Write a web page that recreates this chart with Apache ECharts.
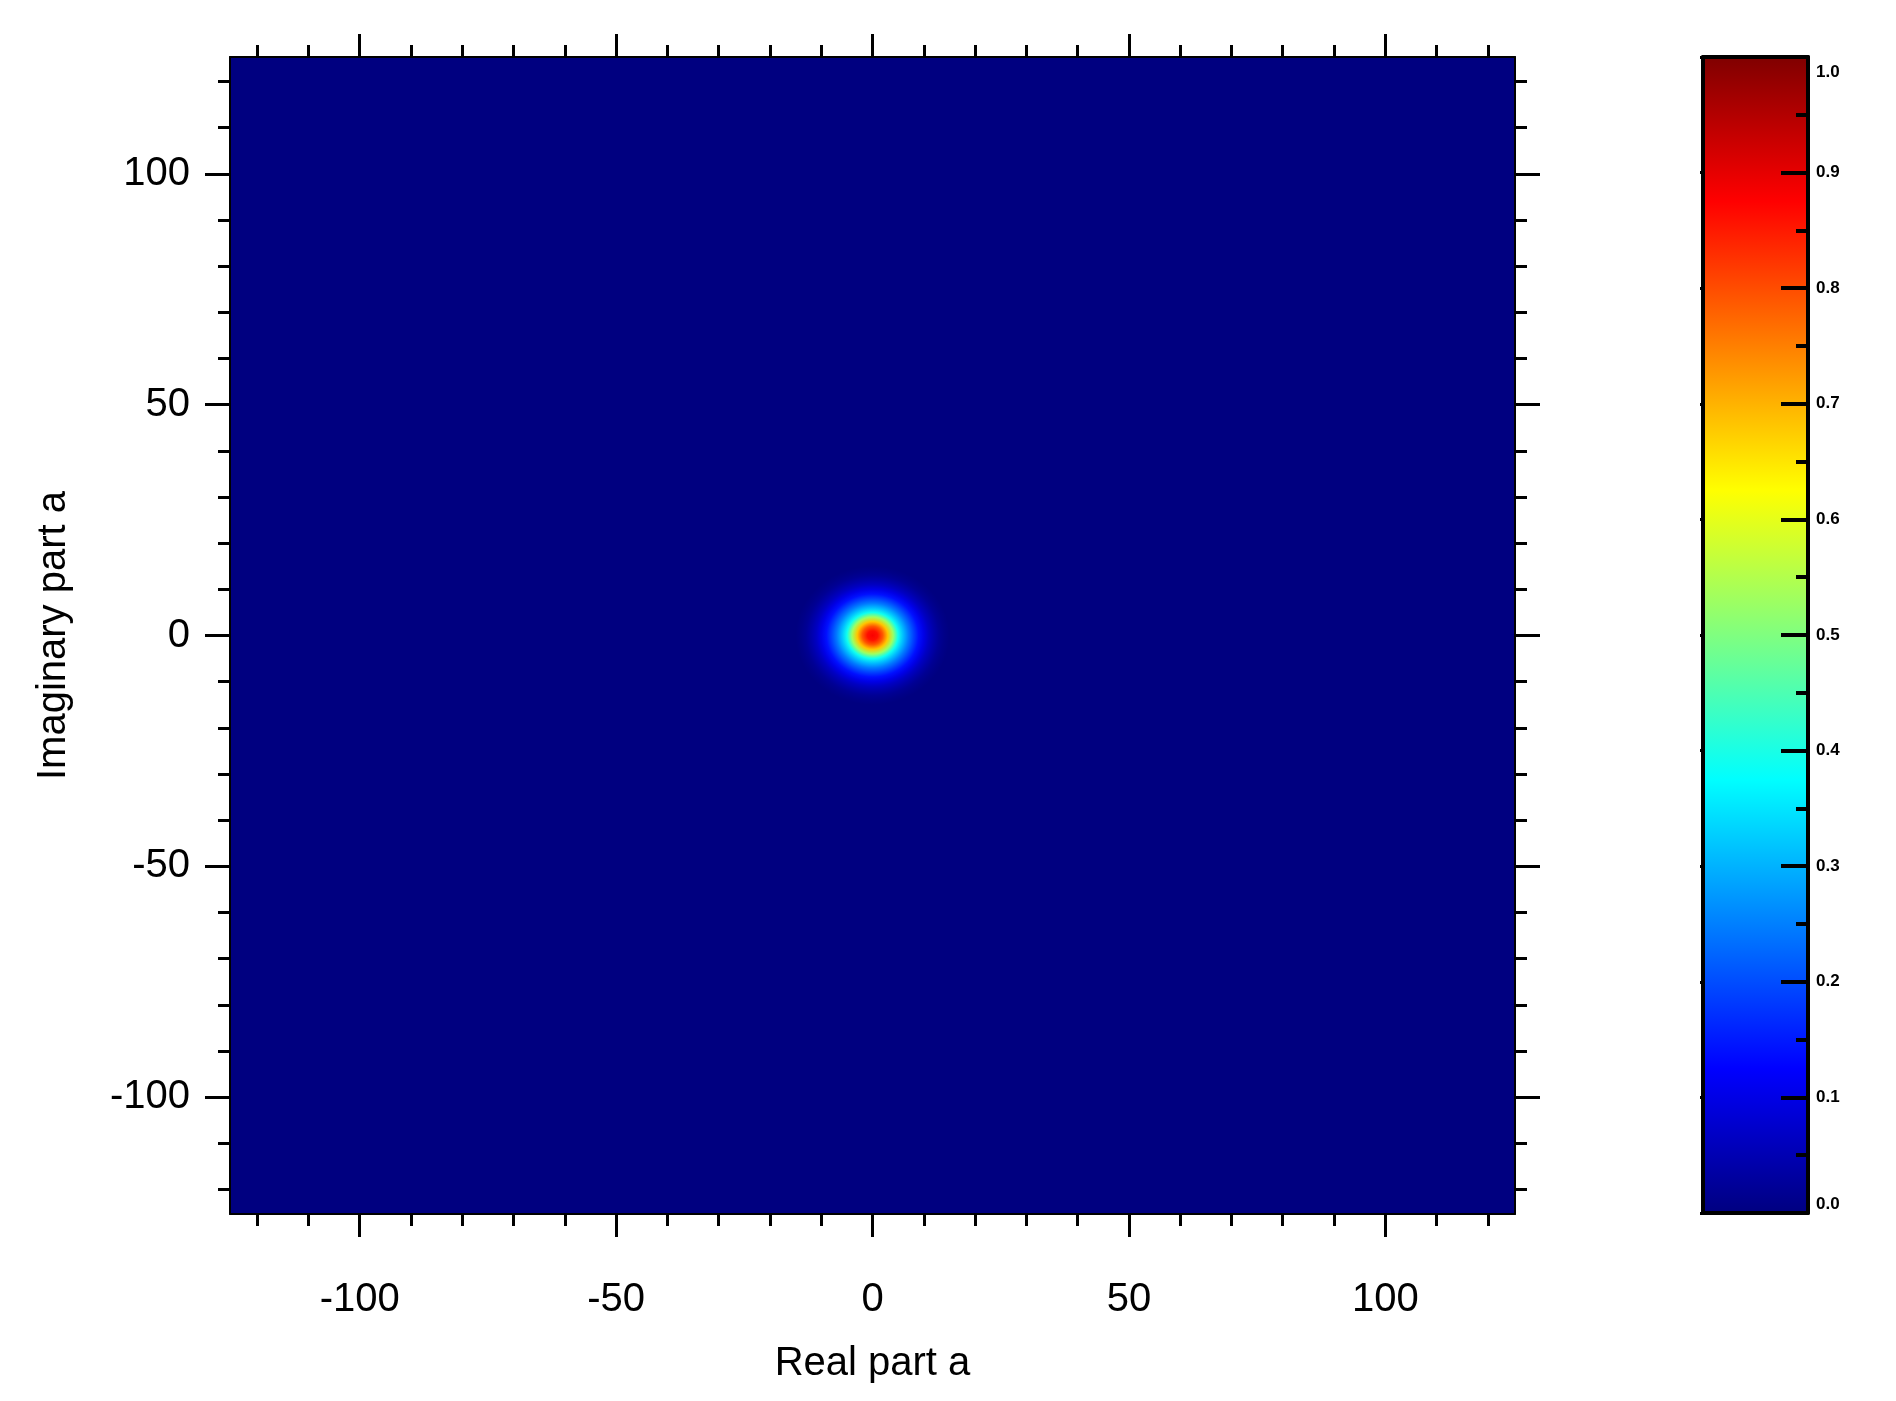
<!DOCTYPE html>
<html>
<head>
<meta charset="utf-8">
<script src="https://cdn.jsdelivr.net/npm/echarts@6/dist/echarts.min.js"></script>
<style>
html,body{margin:0;padding:0;background:#ffffff;}
#chart{width:1896px;height:1401px;}
</style>
</head>
<body>
<div id="chart"></div>
<script>
// ---------------- data ----------------
const xMajorTicks = [-100, -50, 0, 50, 100];
const xMinorTicks = [-120, -110, -90, -80, -70, -60, -40, -30, -20, -10, 10, 20, 30, 40, 60, 70, 80, 90, 110, 120];
const yMajorTicks = [-100, -50, 0, 50, 100];
const yMinorTicks = [-120, -110, -90, -80, -70, -60, -40, -30, -20, -10, 10, 20, 30, 40, 60, 70, 80, 90, 110, 120];
const axisRange = [-125.3, 125.3];

// centre of the distribution (Real part, Imaginary part)
const blobCentre = [0, 0];
// radial profile of the distribution: distance from centre -> level
const profileRadius = [0, 1, 2, 3, 4, 5, 6, 7, 8, 9, 10, 11, 12, 13, 14, 15];
const profileLevel  = [0.88, 0.86, 0.79, 0.68, 0.53, 0.39, 0.31, 0.245, 0.19, 0.14, 0.10, 0.065, 0.04, 0.02, 0.008, 0.0];

const colorbarRange = [0, 1];
const colorbarStep = 0.1;
// colour table (jet)
const jetStops = [[0, '#000080'], [0.125, '#0000ff'], [0.375, '#00ffff'], [0.625, '#ffff00'], [0.875, '#ff0000'], [1, '#800000']];

// ---------------- helpers ----------------
function hexRgb(h) { return [parseInt(h.slice(1, 3), 16), parseInt(h.slice(3, 5), 16), parseInt(h.slice(5, 7), 16)]; }
function jet(v) {
  v = Math.max(0, Math.min(1, v));
  for (let i = 0; i < jetStops.length - 1; i++) {
    const a = jetStops[i], b = jetStops[i + 1];
    if (v <= b[0]) {
      const t = (v - a[0]) / (b[0] - a[0]);
      const ca = hexRgb(a[1]), cb = hexRgb(b[1]);
      const c = ca.map((x, k) => Math.round(x + (cb[k] - x) * t));
      return 'rgb(' + c.join(',') + ')';
    }
  }
  return jetStops[jetStops.length - 1][1];
}

const FONT = "'Liberation Sans', Arial, Helvetica, sans-serif";
const chart = echarts.init(document.getElementById('chart'), null, { renderer: 'canvas' });

function mainX(position, ticks, len, withLabel, withLine) {
  return {
    type: 'value', gridIndex: 0, position: position, min: axisRange[0], max: axisRange[1], z: 3,
    axisLine: { show: withLine, onZero: false, lineStyle: { color: '#000', width: 2 } },
    axisTick: { show: true, customValues: ticks, length: len, lineStyle: { color: '#000', width: 3 } },
    axisLabel: withLabel ? { show: true, customValues: ticks, fontSize: 40, fontFamily: FONT, color: '#000', margin: 66 } : { show: false },
    splitLine: { show: false }
  };
}
function mainY(position, ticks, len, withLabel, withLine) {
  return {
    type: 'value', gridIndex: 0, position: position, min: axisRange[0], max: axisRange[1], z: 3,
    axisLine: { show: withLine, onZero: false, lineStyle: { color: '#000', width: 2 } },
    axisTick: { show: true, customValues: ticks, length: len, lineStyle: { color: '#000', width: 3 } },
    axisLabel: withLabel ? { show: true, customValues: ticks, fontSize: 40, fontFamily: FONT, color: '#000', margin: 40, padding: [12, 0, 0, 0] } : { show: false },
    splitLine: { show: false }
  };
}

const xAxes = [
  Object.assign(mainX('bottom', xMajorTicks, 23, true, true), {
    name: 'Real part a', nameLocation: 'middle', nameGap: 130,
    nameTextStyle: { fontSize: 40, fontFamily: FONT, color: '#000' }
  }),
  mainX('bottom', xMinorTicks, 12, false, false),
  mainX('top', xMajorTicks, 23, false, true),
  mainX('top', xMinorTicks, 12, false, false),
  // colour bar frame
  { type: 'value', gridIndex: 1, position: 'bottom', min: 0, max: 1, z: 4,
    axisLine: { show: true, onZero: false, lineStyle: { color: '#000', width: 4 } },
    axisTick: { show: false }, axisLabel: { show: false }, splitLine: { show: false } },
  { type: 'value', gridIndex: 1, position: 'top', min: 0, max: 1, z: 4,
    axisLine: { show: true, onZero: false, lineStyle: { color: '#000', width: 4 } },
    axisTick: { show: false }, axisLabel: { show: false }, splitLine: { show: false } }
];

const yAxes = [
  Object.assign(mainY('left', yMajorTicks, 25, true, true), {
    name: 'Imaginary part a', nameLocation: 'middle', nameGap: 156, nameRotate: 90,
    nameTextStyle: { fontSize: 40, fontFamily: FONT, color: '#000' }
  }),
  mainY('left', yMinorTicks, 12, false, false),
  mainY('right', yMajorTicks, 25, false, true),
  mainY('right', yMinorTicks, 12, false, false),
  // colour bar scale
  { type: 'value', gridIndex: 1, position: 'right', min: colorbarRange[0], max: colorbarRange[1], interval: colorbarStep, z: 4,
    axisLine: { show: true, onZero: false, lineStyle: { color: '#000', width: 4 } },
    axisTick: { show: true, inside: true, length: 27, lineStyle: { color: '#000', width: 4 } },
    minorTick: { show: true, splitNumber: 2, length: 12, lineStyle: { color: '#000', width: 4 } },
    axisLabel: { show: true, margin: 8, fontSize: 17, fontWeight: 'bold', fontFamily: FONT, color: '#000',
      padding: [7, 0, 0, 0],
      formatter: v => v.toFixed(1), verticalAlignMaxLabel: 'top', verticalAlignMinLabel: 'bottom' },
    splitLine: { show: false }, minorSplitLine: { show: false } },
  { type: 'value', gridIndex: 1, position: 'left', min: colorbarRange[0], max: colorbarRange[1], interval: colorbarStep, z: 4,
    axisLine: { show: true, onZero: false, lineStyle: { color: '#000', width: 4 } },
    axisTick: { show: true, inside: false, length: 3, lineStyle: { color: '#000', width: 3 } },
    axisLabel: { show: false }, splitLine: { show: false } }
];

const option = {
  backgroundColor: '#ffffff',
  animation: false,
  grid: [
    { left: 230, top: 57, width: 1285, height: 1157, show: true, backgroundColor: jet(0), borderWidth: 0 },
    { left: 1703, top: 57, width: 105, height: 1156, show: false }
  ],
  xAxis: xAxes,
  yAxis: yAxes,
  series: [
    {
      type: 'custom', name: 'distribution', xAxisIndex: 0, yAxisIndex: 0, z: 1, silent: true, clip: true,
      data: [blobCentre],
      renderItem: function (params, api) {
        const c = api.coord([api.value(0), api.value(1)]);
        const rMax = profileRadius[profileRadius.length - 1];
        const s = api.size([rMax, rMax]);
        const stops = profileRadius.map((r, i) => ({ offset: r / rMax, color: jet(profileLevel[i]) }));
        return {
          type: 'circle', x: c[0], y: c[1], scaleX: 1, scaleY: s[1] / s[0],
          shape: { cx: 0, cy: 0, r: s[0] },
          style: { fill: new echarts.graphic.RadialGradient(0.5, 0.5, 0.5, stops) }
        };
      }
    },
    {
      type: 'custom', name: 'colorbar', xAxisIndex: 4, yAxisIndex: 4, z: 1, silent: true,
      data: [[colorbarRange[0], colorbarRange[1]]],
      renderItem: function (params, api) {
        const p0 = api.coord([0, api.value(0)]);
        const p1 = api.coord([1, api.value(1)]);
        const stops = jetStops.map(s => ({ offset: s[0], color: s[1] }));
        return {
          type: 'rect',
          shape: { x: p0[0], y: p1[1], width: p1[0] - p0[0], height: p0[1] - p1[1] },
          style: { fill: new echarts.graphic.LinearGradient(0, 1, 0, 0, stops) }
        };
      }
    }
  ]
};
chart.setOption(option);
</script>
</body>
</html>
